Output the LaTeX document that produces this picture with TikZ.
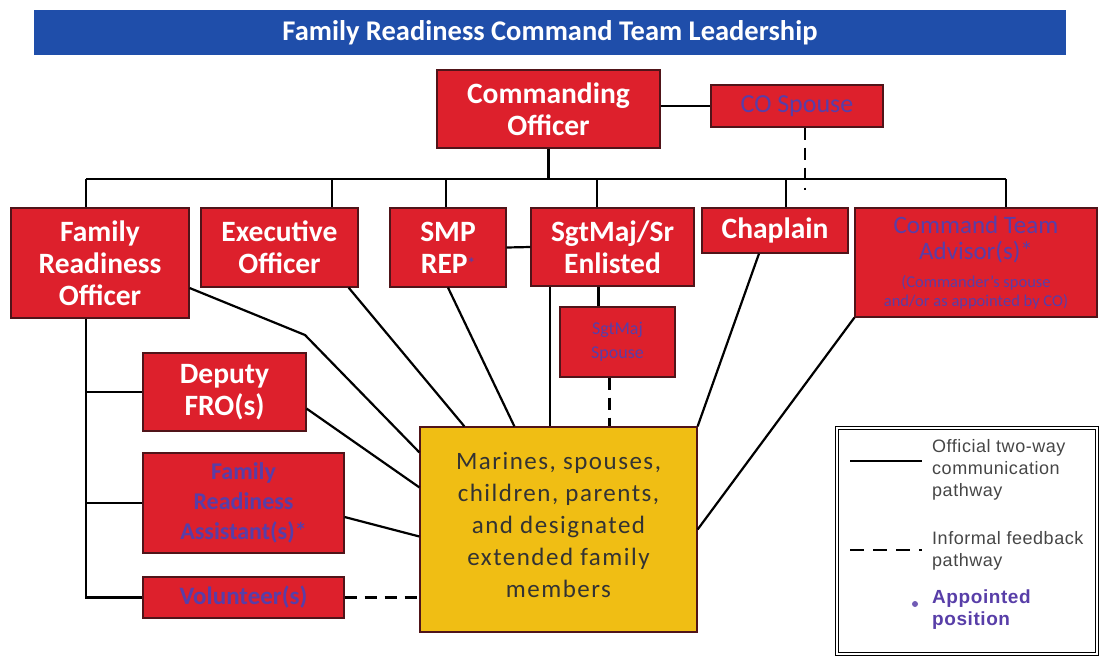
\documentclass[tikz,border=0pt]{standalone}
\usepackage{fontspec}
\setmainfont{Carlito}
\newfontfamily\legendfont[LetterSpace=3]{Liberation Sans}
\newfontfamily\famfont[LetterSpace=6]{Carlito}
\usetikzlibrary{positioning}

\definecolor{boxred}{RGB}{221,32,44}
\definecolor{boxedge}{RGB}{80,20,25}
\definecolor{titleblue}{RGB}{31,78,170}
\definecolor{famyellow}{RGB}{240,190,20}
\definecolor{apptblue}{RGB}{88,62,168}
\definecolor{legendgray}{RGB}{70,70,70}

\newcommand{\smallnote}{\fontsize{16.5}{19}\selectfont}

\begin{document}
\begin{tikzpicture}[
  x=1pt, y=-1pt,
  every node/.style={inner sep=0, align=center},
  redbox/.style={draw=boxedge, line width=1.2pt, fill=boxred, text=white,
    font=\bfseries\fontsize{29.5}{32}\selectfont},
  bluebox/.style={redbox, text=apptblue},
  link/.style={line width=2.2pt},
  feedback/.style={line width=2.2pt, dash pattern=on 12pt off 8pt},
  legend text/.style={anchor=west, align=left, text=legendgray,
    font=\legendfont\fontsize{18}{22}\selectfont}
]

\useasboundingbox (0,0) rectangle (1101,657);

% title bar
\node[fill=titleblue, minimum width=1032, minimum height=45, text=white,
  font=\bfseries\fontsize{28.5}{30}\selectfont] (title) at (550,32.5)
  {Family Readiness Command Team Leadership};

% command level
\node[redbox, minimum width=223, minimum height=78] (co) at (548.5,109) {Commanding\\Officer};
\node[bluebox, minimum width=172, minimum height=42, font=\fontsize{26}{28}\selectfont] (cosp) at (797,106) {CO Spouse};

% staff level
\node[redbox, minimum width=178, minimum height=110] (fro) at (100,263) {Family\\Readiness\\Officer};
\node[redbox, minimum width=157, minimum height=79] (xo) at (279.5,247.5) {Executive\\Officer};
\node[redbox, minimum width=116, minimum height=79] (smp) at (448,247.5) {SMP\\REP\textcolor{apptblue}{\raisebox{5pt}{\fontsize{15}{15}\selectfont*}}};
\node[redbox, minimum width=163, minimum height=78] (sgm) at (612.5,247) {SgtMaj/Sr\\Enlisted};
\node[redbox, minimum width=146, minimum height=45] (chap) at (775,230.5) {Chaplain};
\node[bluebox, minimum width=242, minimum height=109, font=\fontsize{25}{26}\selectfont] (cta) at (976,262.5)
  {Command Team\\Advisor(s)*\\[2pt]{\smallnote (Commander's spouse}\\[-7pt]{\smallnote and/or as appointed by CO)}};
\node[bluebox, minimum width=115, minimum height=70, font=\fontsize{18}{24}\selectfont] (sgsp) at (617.5,342) {SgtMaj\\Spouse};

% FRO team
\node[redbox, minimum width=163, minimum height=78] (dfro) at (224.5,392) {Deputy\\FRO(s)};
\node[bluebox, minimum width=201, minimum height=100, font=\bfseries\fontsize{24}{30}\selectfont] (fra) at (243.5,503) {Family\\Readiness\\Assistant(s)*};
\node[bluebox, minimum width=201, minimum height=41, font=\bfseries\fontsize{25}{26}\selectfont] (vol) at (243.5,597.5) {Volunteer(s)};

% families
\node[draw=boxedge, line width=1.2pt, fill=famyellow, minimum width=277, minimum height=205,
  text=black!80, font=\famfont\fontsize{25}{32}\selectfont] (fam) at (558.5,529.5)
  {Marines, spouses,\\children, parents,\\and designated\\extended family\\members\\[-22pt]};

% bus below the commanding officer
\coordinate (busl) at (86,179);
\coordinate (busr) at (1006,179);
\coordinate (bxo) at (332,179);
\coordinate (bsmp) at (446,179);
\coordinate (bsgm) at (597,179);
\coordinate (bchap) at (786,179);
\coordinate (cspend) at (805,190);

\draw[link] (co.east |- cosp.west) -- (cosp.west);
\draw[link] (co.south) -- (co.south |- busl);
\draw[link] (busl) -- (busr);
\draw[feedback] (cosp.south -| cspend) -- (cspend);

\draw[link] (busl) -- (busl |- fro.north);
\draw[link] (bxo) -- (bxo |- xo.north);
\draw[link] (bsmp) -- (bsmp |- smp.north);
\draw[link] (bsgm) -- (bsgm |- sgm.north);
\draw[link] (bchap) -- (bchap |- chap.north);
\draw[link] (busr) -- (busr |- cta.north);

\draw[link] (smp.east) -- (sgm.west);
\draw[link] ([xshift=-14pt]sgm.south) -- ([xshift=-14pt]sgm.south |- sgsp.north);
\draw[feedback] ([xshift=-8pt]sgsp.south) -- ([xshift=-8pt]sgsp.south |- fam.north);

% FRO down the left side
\draw[link] (busl |- fro.south) -- (busl |- vol.west) -- (vol.west);
\draw[link] (busl |- dfro.west) -- (dfro.west);
\draw[link] (busl |- fra.west) -- (fra.west);

% lines into the families box
\draw[link] ([yshift=-25pt]fro.east) -- (305,335) -- ([yshift=-26pt]fam.north west);
\draw[link] ([xshift=-10pt]xo.south east) -- ([xshift=45pt]fam.north west);
\draw[link] (smp.south) -- ([xshift=95pt]fam.north west);
\draw[link] ([xshift=-62.5pt]sgm.south) -- ([xshift=-62.5pt]sgm.south |- fam.north);
\draw[link] ([xshift=-16pt]chap.south) -- (fam.north east);
\draw[link] (cta.south west) -- (fam.east);
\draw[link] ([yshift=23pt]dfro.south east) -- ([yshift=-61pt]fam.north west);
\draw[link] ([yshift=-14pt]fra.east) -- ([yshift=-7pt]fam.west);
\draw[feedback] (vol.east) -- (vol.east -| fam.west);

% legend
\node[draw, double, double distance=1.5pt, line width=0.8pt, minimum width=260, minimum height=226] (legend) at (967,541) {};
\coordinate (solidA) at (850,461);
\coordinate (solidB) at (922,461);
\coordinate (dashA) at (850,550);
\coordinate (dashB) at (922,550);
\draw[line width=1.6pt] (solidA) -- (solidB);
\draw[line width=2.2pt, dash pattern=on 14pt off 9pt] (dashA) -- (dashB);
\node[legend text] (offtxt) at (932,470) {Official two-way\\communication\\pathway};
\node[legend text] (inftxt) at (932,551) {Informal feedback\\pathway};
\node[circle, fill=apptblue!85, minimum size=6] (apptdot) at (915,604) {};
\node[legend text, text=apptblue, font=\legendfont\bfseries\fontsize{19}{22}\selectfont] (appttxt) at (932,610) {Appointed\\position};

\end{tikzpicture}
\end{document}
